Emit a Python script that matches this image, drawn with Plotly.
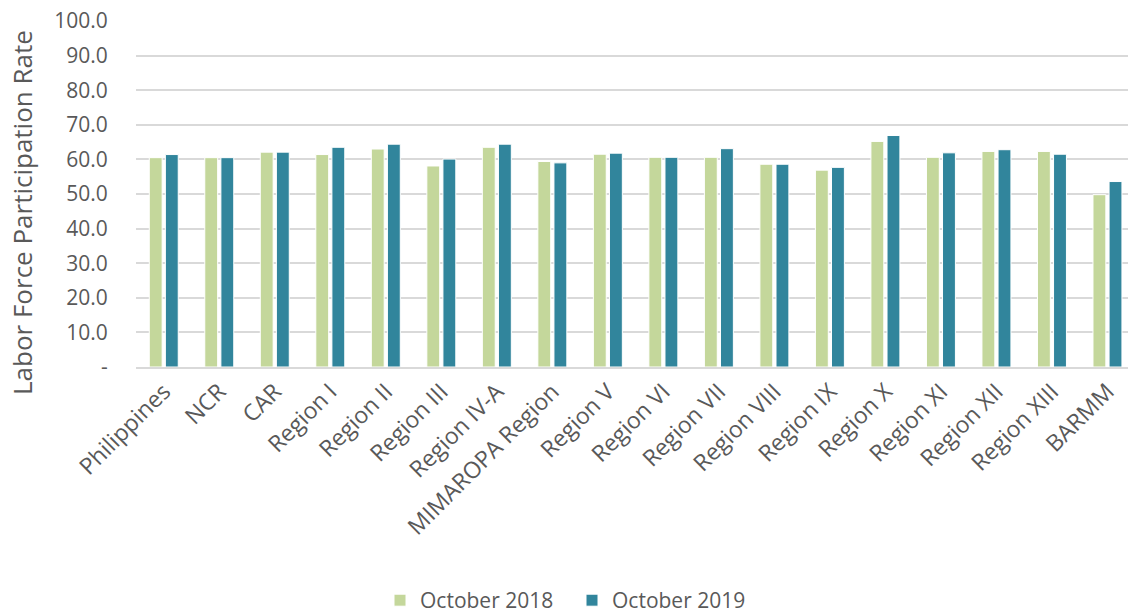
import plotly.graph_objects as go

categories = ["Philippines", "NCR", "CAR", "Region I", "Region II", "Region III",
              "Region IV-A", "MIMAROPA Region", "Region V", "Region VI", "Region VII",
              "Region VIII", "Region IX", "Region X", "Region XI", "Region XII",
              "Region XIII", "BARMM"]
oct_2018 = [60.5, 60.5, 62.1, 61.4, 63.0, 58.1, 63.5, 59.4, 61.5, 60.6, 60.6,
            58.6, 56.9, 65.2, 60.6, 62.3, 62.3, 49.8]
oct_2019 = [61.4, 60.5, 62.1, 63.5, 64.4, 60.1, 64.4, 59.0, 61.8, 60.6, 63.1,
            58.6, 57.7, 66.9, 61.9, 62.8, 61.5, 53.6]
ytick_vals = [0, 10, 20, 30, 40, 50, 60, 70, 80, 90, 100]
ytick_text = ["-", "10.0", "20.0", "30.0", "40.0", "50.0", "60.0", "70.0", "80.0", "90.0", "100.0"]

FONT = "Open Sans"
GRAY = "#595959"

fig = go.Figure()
fig.add_trace(go.Bar(x=categories, y=oct_2018, name="October 2018",
                     marker=dict(color="#C4D79B", line=dict(color="white", width=1))))
fig.add_trace(go.Bar(x=categories, y=oct_2019, name="October 2019",
                     marker=dict(color="#31859C", line=dict(color="white", width=1))))

fig.update_layout(
    width=1128, height=615,
    margin=dict(l=136, r=0, t=21, b=248, autoexpand=False),
    paper_bgcolor="white", plot_bgcolor="white",
    barmode="group", bargap=0.42, bargroupgap=0.2,
    font=dict(family=FONT, color=GRAY, size=20),
    showlegend=True,
    legend=dict(orientation="h", x=(380 - 136) / 992, xanchor="left", y=-0.675, yanchor="middle",
                font=dict(size=21, color=GRAY), itemwidth=30, traceorder="normal",
                entrywidth=147, entrywidthmode="pixels"),
    xaxis=dict(range=[-0.5, 17.37], tickangle=-45, showgrid=False, automargin=False,
               showline=True, linecolor="#D9D9D9", linewidth=2,
               tickfont=dict(size=23, color=GRAY)),
    yaxis=dict(range=[0, 100], tickvals=ytick_vals, ticktext=ytick_text, automargin=False,
               showgrid=True, gridcolor="#D9D9D9", gridwidth=2, zeroline=False,
               ticks="outside", ticklen=23, tickcolor="rgba(0,0,0,0)",
               tickfont=dict(size=21, color=GRAY)),
    annotations=[dict(text="Labor Force Participation Rate", textangle=-90,
                      xref="paper", yref="paper", x=(22 - 136) / 992, y=(367 - 213) / 346,
                      xanchor="center", yanchor="middle", showarrow=False,
                      font=dict(size=26, color=GRAY))],
)

fig.write_html("out.html", config={"displayModeBar": False},
               post_script="document.body.style.margin='0';")
